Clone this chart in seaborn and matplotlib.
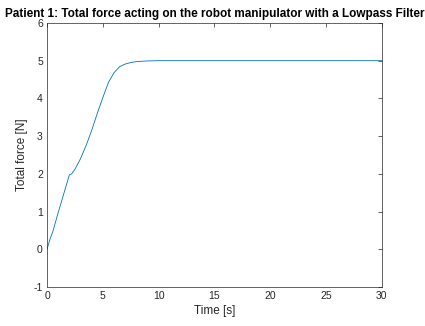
import matplotlib
matplotlib.use("Agg")
import matplotlib.pyplot as plt
import seaborn as sns
import pandas as pd

time_s = [0, 0.3, 0.5, 1.0, 1.5, 2.0, 2.2, 2.5, 3.0, 3.5, 4.0, 4.5, 5.0, 5.5,
          6.0, 6.5, 7.0, 7.5, 8.0, 9.0, 10, 12, 15, 20, 30]
force_N = [0, 0.3, 0.45, 0.97, 1.47, 1.97, 2.0, 2.12, 2.4, 2.75, 3.15, 3.6, 4.02,
           4.42, 4.68, 4.84, 4.91, 4.95, 4.975, 4.993, 5.0, 5.0, 5.0, 5.0, 5.0]
x_ticks = [0, 5, 10, 15, 20, 25, 30]
y_ticks = [-1, 0, 1, 2, 3, 4, 5, 6]

sns.set_theme(style="white")
plt.rcParams['font.family'] = ['Liberation Sans', 'DejaVu Sans']
plt.rcParams['axes.unicode_minus'] = False

df = pd.DataFrame({"t": time_s, "F": force_N})
fig = plt.figure(figsize=(4.25, 3.26), dpi=100)
ax = fig.add_axes([0.1106, 0.1196, 0.788, 0.81])
sns.lineplot(data=df, x="t", y="F", ax=ax, color="#0072BD", linewidth=0.6)
ax.set_xlim(0, 30)
ax.set_ylim(-1, 6)
ax.set_xticks(x_ticks)
ax.set_yticks(y_ticks)
ax.tick_params(direction="in", length=3, width=0.5, top=True, right=True,
               labelsize=7.5, colors="#262626", pad=3)
for s in ax.spines.values():
    s.set_color("#262626")
    s.set_linewidth(0.5)
ax.set_xlabel("Time [s]", fontsize=8.5, color="#262626", labelpad=3)
ax.set_ylabel("Total force [N]", fontsize=8.5, color="#262626")
ax.yaxis.set_label_coords(-0.058, 0.5)
ax.set_title("Patient 1: Total force acting on the robot manipulator with a Lowpass Filter",
             fontsize=8.5, fontweight="bold", color="black", pad=4)
fig.savefig("out.png", dpi=100)
